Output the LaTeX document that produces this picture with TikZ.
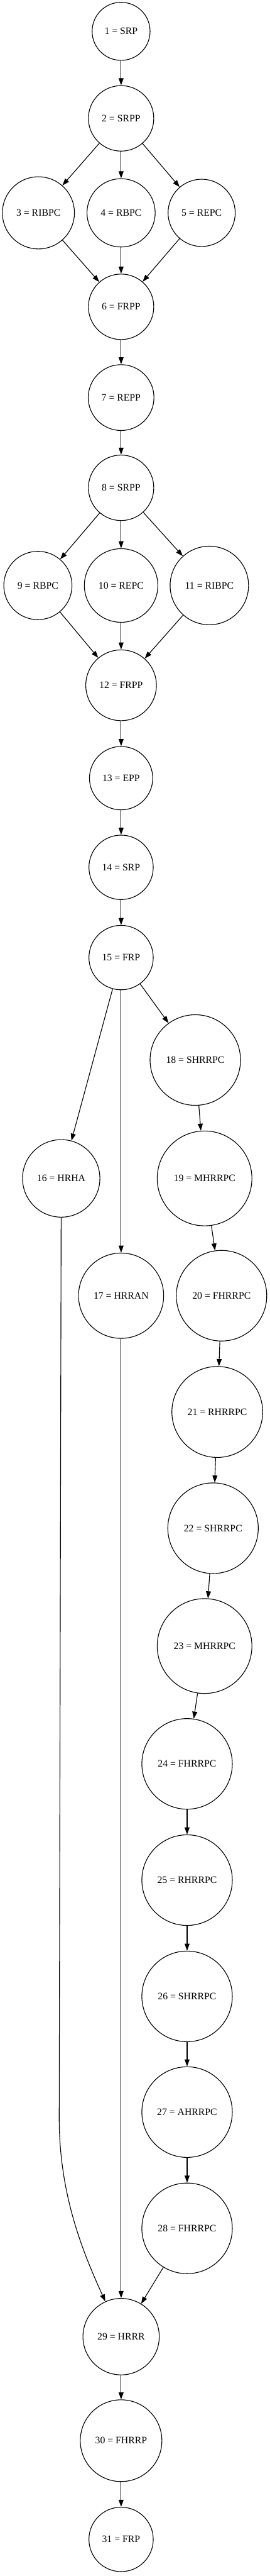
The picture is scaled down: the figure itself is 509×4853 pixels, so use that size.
\documentclass[tikz,border=0pt]{standalone}
\usepackage{fontspec}
\setmainfont{Liberation Serif}
\usepackage{tikz}
\usetikzlibrary{arrows.meta}
\tikzset{>={Triangle[length=10pt, width=7pt]}}

\begin{document}
\begin{tikzpicture}[
    x = 0.75pt, y = -0.75pt,
    c0/.style = {circle, draw, line width = 1pt, inner sep = 0pt, font = \fontsize{14}{16}\selectfont},
    a0/.style = {->, line width = 1pt},
]
\useasboundingbox (0,0) rectangle (509,4853);

\node[c0, minimum size = 82pt]    (n1)  at (228.5,59)   {1 = SRP};
\node[c0, minimum size = 92.5pt]  (n2)  at (228.5,223)  {2 = SRPP};
\node[c0, minimum size = 102pt]   (n3)  at (72.5,401)   {3 = RIBPC};
\node[c0, minimum size = 96.5pt]  (n4)  at (228.5,401)  {4 = RBPC};
\node[c0, minimum size = 95pt]    (n5)  at (380.5,401)  {5 = REPC};
\node[c0, minimum size = 92.5pt]  (n6)  at (228.5,578)  {6 = FRPP};
\node[c0, minimum size = 93pt]    (n7)  at (228.5,749)  {7 = REPP};
\node[c0, minimum size = 92.5pt]  (n8)  at (228.5,919)  {8 = SRPP};
\node[c0, minimum size = 96.5pt]  (n9)  at (71.5,1103)  {9 = RBPC};
\node[c0, minimum size = 104pt]   (n10) at (228.5,1103) {10 = REPC};
\node[c0, minimum size = 111pt]   (n11) at (395,1103)   {11 = RIBPC};
\node[c0, minimum size = 100pt]   (n12) at (228.5,1291) {12 = FRPP};
\node[c0, minimum size = 89.5pt]  (n13) at (228.5,1466) {13 = EPP};
\node[c0, minimum size = 91pt]    (n14) at (228.5,1634) {14 = SRP};
\node[c0, minimum size = 91pt]    (n15) at (228.5,1804) {15 = FRP};
\node[c0, minimum size = 109.5pt] (n16) at (115.5,2220) {16 = HRHA};
\node[c0, minimum size = 120.5pt] (n17) at (228.5,2441) {17 = HRRAN};
\node[c0, minimum size = 128pt]   (n18) at (368.5,1997) {18 = SHRRPC};
\node[c0, minimum size = 134pt]   (n19) at (386,2220)   {19 = MHRRPC};
\node[c0, minimum size = 128pt]   (n20) at (418,2441)   {20 = FHRRPC};
\node[c0, minimum size = 128.5pt] (n21) at (410,2660)   {21 = RHRRPC};
\node[c0, minimum size = 128pt]   (n22) at (402,2879)   {22 = SHRRPC};
\node[c0, minimum size = 134pt]   (n23) at (386,3101)   {23 = MHRRPC};
\node[c0, minimum size = 128pt]   (n24) at (353,3323)   {24 = FHRRPC};
\node[c0, minimum size = 128pt]   (n25) at (353,3542)   {25 = RHRRPC};
\node[c0, minimum size = 128pt]   (n26) at (353,3761)   {26 = SHRRPC};
\node[c0, minimum size = 128pt]   (n27) at (353,3979)   {27 = AHRRPC};
\node[c0, minimum size = 128pt]   (n28) at (353,4198)   {28 = FHRRPC};
\node[c0, minimum size = 108pt]   (n29) at (228.5,4402) {29 = HRRR};
\node[c0, minimum size = 115.5pt] (n30) at (228.5,4598) {30 = FHRRP};
\node[c0, minimum size = 91pt]    (n31) at (228.5,4784) {31 = FRP};

\draw[a0] (n1) -- (n2);
\draw[a0] (n2) -- (n3);
\draw[a0] (n2) -- (n4);
\draw[a0] (n2) -- (n5);
\draw[a0] (n3) -- (n6);
\draw[a0] (n4) -- (n6);
\draw[a0] (n5) -- (n6);
\draw[a0] (n6) -- (n7);
\draw[a0] (n7) -- (n8);
\draw[a0] (n8) -- (n9);
\draw[a0] (n8) -- (n10);
\draw[a0] (n8) -- (n11);
\draw[a0] (n9) -- (n12);
\draw[a0] (n10) -- (n12);
\draw[a0] (n11) -- (n12);
\draw[a0] (n12) -- (n13);
\draw[a0] (n13) -- (n14);
\draw[a0] (n14) -- (n15);
\draw[a0] (n15) -- (n16);
\draw[a0] (n15) -- (n17);
\draw[a0] (n15) -- (n18);
\draw[a0] (n18) -- (n19);
\draw[a0] (n19) -- (n20);
\draw[a0] (n20) -- (n21);
\draw[a0] (n21) -- (n22);
\draw[a0] (n22) -- (n23);
\draw[a0] (n23) -- (n24);
\draw[a0] (n24) -- (n25);
\draw[a0] (n25) -- (n26);
\draw[a0] (n26) -- (n27);
\draw[a0] (n27) -- (n28);
\draw[a0] (n28) -- (n29);
\draw[a0] (n16) -- (111.7,3990) .. controls (111.7,4140) and (160,4250) .. (n29);
\draw[a0] (n17) -- (n29);
\draw[a0] (n29) -- (n30);
\draw[a0] (n30) -- (n31);

\end{tikzpicture}
\end{document}
